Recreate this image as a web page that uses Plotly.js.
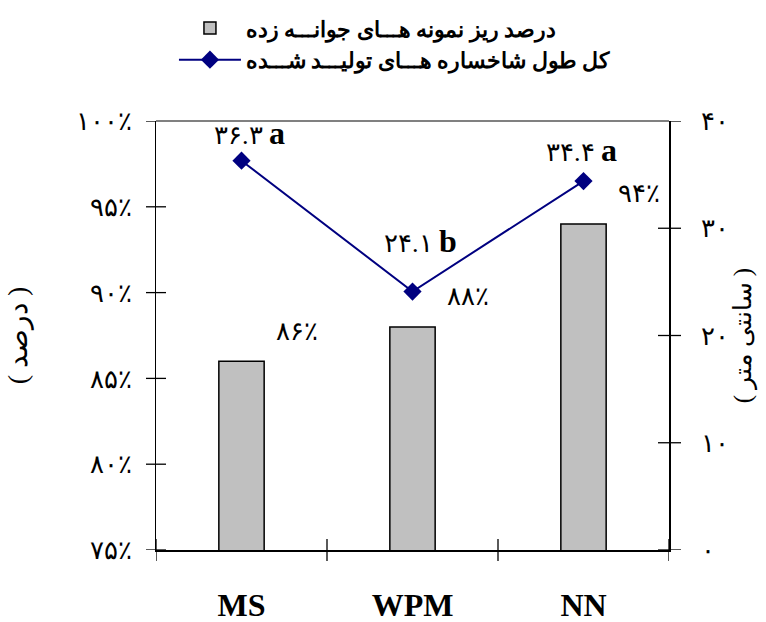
<!DOCTYPE html>
<html><head><meta charset="utf-8">
<script src="https://cdn.plot.ly/plotly-3.0.1.min.js"></script>
<style>html,body{margin:0;padding:0;background:#fff}#chart{width:766px;height:622px}</style>
</head><body><div id="chart"></div>
<script>
// ---- data ----
const categories = ["MS", "WPM", "NN"];
const germinationPct = [86, 88, 94];               // left axis (%)
const germinationLabels = ["۸۶٪", "۸۸٪", "۹۴٪"];
const shootLength = [36.3, 24.1, 34.4];            // right axis (cm)
const shootLabels = ["۳۶.۳", "۲۴.۱", "۳۴.۴"];
const shootGroups = ["a", "b", "a"];
const leftTickVals = [75, 80, 85, 90, 95, 100];
const leftTickText = ["۷۵٪", "۸۰٪", "۸۵٪", "۹۰٪", "۹۵٪", "۱۰۰٪"];
const rightTickVals = [0, 10, 20, 30, 40];
const rightTickText = ["۰", "۱۰", "۲۰", "۳۰", "۴۰"];
const barName = "درصد ریز نمونه هـــای جوانـــه زده";
const lineName = "کل طول شاخساره هـــای تولیـــد شـــده";
const leftTitle = "( درصد )";
const rightTitle = "( سانتی متر )";

// ---- layout helpers ----
const serif = "Liberation Serif, DejaVu Serif, serif";
const lineLabelShift = [[8, 28], [8, 51], [-2, 31]];

const traces = [
  {type: "bar", name: barName, x: categories, y: germinationPct, yaxis: "y",
   width: 0.265, marker: {color: "#c0c0c0", line: {color: "#000", width: 1.5}}},
  {type: "scatter", mode: "lines+markers", name: lineName, x: categories, y: shootLength, yaxis: "y2",
   line: {color: "#000080", width: 2}, marker: {symbol: "diamond", size: 14, color: "#000080"}}
];

const annotations = [];
categories.forEach((c, i) => {
  annotations.push({x: c, y: germinationPct[i], xref: "x", yref: "y", text: germinationLabels[i],
    showarrow: false, xshift: 55, yshift: 30, font: {family: serif, size: 26, color: "#000"}});
  annotations.push({x: c, y: shootLength[i], xref: "x", yref: "y2",
    text: shootLabels[i] + " <span style='font-size:32px'><b>" + shootGroups[i] + "</b></span>",
    showarrow: false, xshift: lineLabelShift[i][0], yshift: lineLabelShift[i][1],
    font: {family: serif, size: 26, color: "#000"}});
});

// crossing tick marks (drawn half inside, half outside each axis)
const tickShape = {type: "line", line: {color: "#000", width: 1.3}};
const shapes = [];
leftTickVals.forEach(v => shapes.push(Object.assign({}, tickShape,
  {xref: "paper", yref: "y", xsizemode: "pixel", xanchor: 0, x0: -10, x1: 10, y0: v, y1: v})));
rightTickVals.forEach(v => shapes.push(Object.assign({}, tickShape,
  {xref: "paper", yref: "y2", xsizemode: "pixel", xanchor: 1, x0: -11, x1: 12, y0: v, y1: v})));
categories.concat([""]).forEach((c, i) => shapes.push(Object.assign({}, tickShape,
  {xref: "x", yref: "paper", ysizemode: "pixel", yanchor: 0, y0: -11, y1: 11, x0: i - 0.5, x1: i - 0.5})));
shapes.push({type: "line", xref: "paper", yref: "paper", x0: 0, x1: 1, y0: 1, y1: 1,
  line: {color: "#808080", width: 2}});

const layout = {
  width: 766, height: 622,
  margin: {l: 156, r: 97, t: 121, b: 72, autoexpand: false},
  paper_bgcolor: "#fff", plot_bgcolor: "#fff",
  showlegend: true,
  legend: {x: 0.035, y: 1.265, xanchor: "left", yanchor: "top", traceorder: "normal", itemwidth: 62,
    font: {family: serif, size: 22, color: "#000", weight: "bold"}, bgcolor: "rgba(0,0,0,0)", tracegroupgap: 0},
  bargap: 0,
  xaxis: {type: "category", range: [-0.5, 2.5], ticks: "", showline: true, linecolor: "#000", linewidth: 1.5,
    showgrid: false, zeroline: false, automargin: false,
    tickfont: {family: serif, size: 32, color: "#000", weight: "bold"}, ticklabelstandoff: 26},
  yaxis: {range: [75, 100], tickvals: leftTickVals, ticktext: leftTickText, ticks: "",
    showline: true, linecolor: "#000", linewidth: 1.5, showgrid: false, zeroline: false, automargin: false,
    tickfont: {family: serif, size: 26, color: "#000"}, ticklabelstandoff: 17,
    title: {text: leftTitle, font: {family: serif, size: 28, color: "#000"}, standoff: 40}},
  yaxis2: {overlaying: "y", side: "right", range: [0, 40], tickvals: rightTickVals, ticktext: rightTickText,
    ticks: "", showline: true, linecolor: "#000", linewidth: 1.5, automargin: false,
    showgrid: false, zeroline: false, tickfont: {family: serif, size: 26, color: "#000"}, ticklabelstandoff: 25,
    title: {text: rightTitle, font: {family: serif, size: 25, color: "#000"}, standoff: 4}},
  shapes: shapes,
  annotations: annotations
};

Plotly.newPlot("chart", traces, layout, {displayModeBar: false, staticPlot: true});
</script>
</body></html>
